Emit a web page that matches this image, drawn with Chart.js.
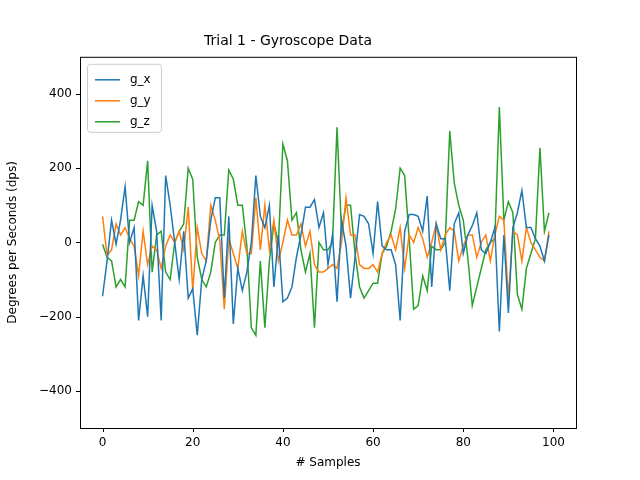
<!DOCTYPE html>
<html><head><script src="https://cdn.jsdelivr.net/npm/chart.js"></script>
<style>body{margin:0;background:#fff}</style></head><body>
<div style="width:640px;height:480px"><canvas id="c" width="640" height="480"></canvas></div>
<script>
const samples = Array.from({length:100},(_,i)=>i);
const gx = [-145,-50,60,-5,60,150,0,40,-210,-90,-200,100,30,-210,180,100,0,-100,30,-150,-125,-250,-100,-50,60,120,120,-150,70,-220,-70,-130,-80,0,180,70,40,100,-120,20,-160,-150,-120,-40,20,95,95,115,40,80,-60,20,-160,60,-10,-150,-40,75,70,50,-30,110,-10,-20,-20,-60,-210,30,75,75,70,30,125,-120,50,10,10,-130,50,80,-30,20,45,80,-20,-30,0,40,-240,20,-190,40,80,140,40,40,10,-10,-50,20];
const gy = [70,-35,-20,50,20,40,10,-10,-90,30,-60,-10,-20,-70,-10,20,0,30,-20,95,-130,40,-30,-50,100,60,5,-180,10,-30,-70,30,-30,-30,120,-20,100,-20,60,-50,0,60,20,20,50,-10,30,-60,-80,-80,-70,-60,-70,0,120,20,20,-60,-70,-70,-60,-80,-30,0,20,-20,40,-70,20,0,40,10,-40,0,50,-20,20,40,30,-50,-10,20,20,-40,0,20,-50,20,70,60,-150,30,20,-50,40,0,-20,-40,-50,30];
const gz = [-5,-40,-50,-120,-100,-120,60,60,110,100,220,-80,20,30,-80,-100,0,30,50,200,170,-40,-100,-120,-80,0,20,20,195,170,100,100,-10,-230,-250,-50,-230,-50,50,0,265,220,60,80,-20,-80,-30,-230,0,-20,-20,0,310,30,100,100,-30,-120,-150,-130,-110,-110,-30,-10,30,90,200,180,10,-180,-170,-90,-130,-10,-20,-20,0,300,160,100,60,-40,-170,-120,-70,-20,0,10,365,60,110,80,-140,-180,-70,-30,10,255,30,80];
const xTicks = [0,20,40,60,80,100];
const yTicks = [-400,-200,0,200,400];
const F = 'DejaVu Sans';
const mk = (label,data,color)=>({label,data:data.map((v,i)=>({x:samples[i],y:v})),borderColor:color,borderWidth:1.5,pointRadius:0,fill:false,tension:0});
const legendPlugin = {id:'lg',afterDraw(ch){
  const c=ch.ctx,a=ch.chartArea;const x=a.left+7,y=a.top+7;
  c.save();c.fillStyle='rgba(255,255,255,0.8)';c.strokeStyle='#ccc';c.lineWidth=1;
  c.beginPath();c.roundRect(x+0.5,y+0.5,74,68,3);c.fill();c.stroke();
  c.font='12px '+F;c.textBaseline='middle';
  ch.data.datasets.forEach((d,i)=>{const yy=y+16+i*21;c.strokeStyle=d.borderColor;c.lineWidth=1.5;
    c.beginPath();c.moveTo(x+8,yy);c.lineTo(x+33,yy);c.stroke();c.fillStyle='#000';c.fillText(d.label,x+43,yy);});
  c.restore();
  c.save();c.strokeStyle='#000';c.lineWidth=1;c.strokeRect(a.left+0.5,a.top+0.5,a.right-a.left,a.bottom-a.top);c.restore();
}};
new Chart(document.getElementById('c'),{type:'line',
 data:{datasets:[mk('g_x',gx,'#1f77b4'),mk('g_y',gy,'#ff7f0e'),mk('g_z',gz,'#2ca02c')]},
 options:{responsive:false,animation:false,
  layout:{padding:{left:0,right:64,top:0,bottom:0}},
  plugins:{legend:{display:false},tooltip:{enabled:false},
   title:{display:true,text:'Trial 1 - Gyroscope Data',color:'#000',font:{family:F,size:14,weight:'normal'},padding:{top:33,bottom:7}}},
  scales:{
   x:{type:'linear',min:-5,max:105,afterBuildTicks(s){s.ticks=xTicks.map(v=>({value:v}));},
      afterFit(s){s.height=52;},
      grid:{display:false,tickLength:4},border:{display:false},
      ticks:{color:'#000',font:{family:F,size:12},padding:4,maxRotation:0},
      title:{display:true,text:'# Samples',color:'#000',font:{family:F,size:12},padding:{top:4,bottom:10}}},
   y:{min:-500,max:500,afterBuildTicks(s){s.ticks=yTicks.map(v=>({value:v}));},
      afterFit(s){s.width=80;},
      grid:{display:false,tickLength:4},border:{display:false},
      ticks:{color:'#000',font:{family:F,size:12},padding:4,callback:v=>String(v).replace('-','\u2212')},
      title:{display:true,text:'Degrees per Seconds (dps)',color:'#000',font:{family:F,size:12},padding:{top:6,bottom:4}}}
  }},
 plugins:[legendPlugin,{id:'tk',afterDraw(ch){const c=ch.ctx,a=ch.chartArea;c.save();c.strokeStyle='#000';c.lineWidth=1;
   xTicks.forEach(v=>{const p=Math.round(ch.scales.x.getPixelForValue(v))+0.5;c.beginPath();c.moveTo(p,a.bottom);c.lineTo(p,a.bottom+4);c.stroke();});
   yTicks.forEach(v=>{const p=Math.round(ch.scales.y.getPixelForValue(v))+0.5;c.beginPath();c.moveTo(a.left,p);c.lineTo(a.left-4,p);c.stroke();});c.restore();}}]
});
</script></body></html>
